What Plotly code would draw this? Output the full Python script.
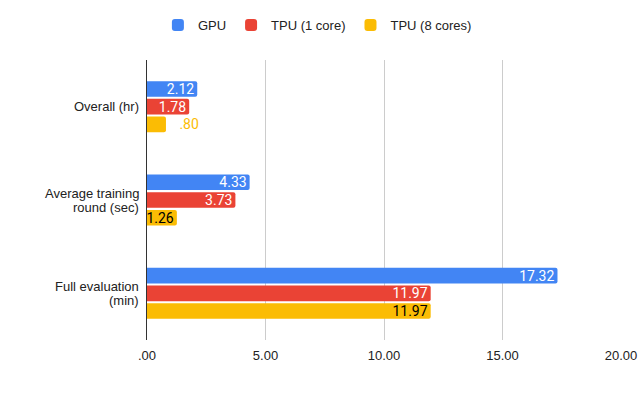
import plotly.graph_objects as go

categories = ["Overall (hr)", "Average training round (sec)", "Full evaluation (min)"]
category_lines = [["Overall (hr)"], ["Average training", "round (sec)"], ["Full evaluation", "(min)"]]
series_names = ["GPU", "TPU (1 core)", "TPU (8 cores)"]
gpu = [2.12, 4.33, 17.32]
tpu1 = [1.78, 3.73, 11.97]
tpu8 = [0.80, 1.26, 11.97]
colors = ["#4285F4", "#EA4335", "#FBBC04"]
tick_vals = [0, 5, 10, 15, 20]
tick_text = [".00", "5.00", "10.00", "15.00", "20.00"]


def fmt(v):
    s = f"{v:.2f}"
    return s[1:] if s.startswith("0") else s


fig = go.Figure()
all_vals = [gpu, tpu1, tpu8]
for i, (name, vals, col) in enumerate(zip(series_names, all_vals, colors)):
    positions = []
    tcolors = []
    texts = []
    for v in vals:
        if v < 1.0:
            positions.append("outside")
            tcolors.append(col)
            texts.append("\u00a0\u00a0\u00a0" + fmt(v))
        else:
            positions.append("inside")
            tcolors.append("#ffffff" if i < 2 else "#000000")
            texts.append(fmt(v))
    fig.add_trace(go.Bar(
        y=categories, x=vals, name=name, orientation="h",
        marker=dict(color=col, cornerradius=2, line=dict(width=0)),
        text=texts, textposition=positions, insidetextanchor="end",
        textfont=dict(family="Roboto", size=14, color=tcolors),
        constraintext="none", cliponaxis=False,
    ))

# category labels, one annotation per line for tighter line spacing
for cat, lines in zip(categories, category_lines):
    n = len(lines)
    for j, line in enumerate(lines):
        fig.add_annotation(
            x=0, xref="paper", y=cat, yref="y", text=line, showarrow=False,
            xanchor="right", yanchor="middle", xshift=-6,
            yshift=(n - 1) * 7 - j * 14,
            font=dict(family="Arial, Liberation Sans, sans-serif", size=13, color="#222222"),
        )

fig.update_layout(
    width=640, height=395,
    margin=dict(l=147, r=19, t=60, b=55, autoexpand=False),
    paper_bgcolor="white", plot_bgcolor="white",
    barmode="group", bargap=0.43, bargroupgap=0.12,
    font=dict(family="Arial, Liberation Sans, sans-serif", size=13, color="#222222"),
    legend=dict(orientation="h", x=0.023, xanchor="left", y=1.125, yanchor="middle",
                font=dict(size=13, color="#222222"), itemwidth=30),
    showlegend=True,
)
fig.update_xaxes(range=[0, 20], tickvals=tick_vals, ticktext=tick_text,
                 showgrid=True, gridcolor="#cccccc", gridwidth=1, automargin=False,
                 zeroline=False, showline=False, ticks="", ticklen=0,
                 ticklabelstandoff=6)
fig.update_yaxes(autorange="reversed", showgrid=False, zeroline=False, automargin=False,
                 showticklabels=False,
                 showline=True, linecolor="#333333", linewidth=1, ticks="")
fig.write_html("out.html", config={"displayModeBar": False},
               post_script="document.body.style.margin='0';")
